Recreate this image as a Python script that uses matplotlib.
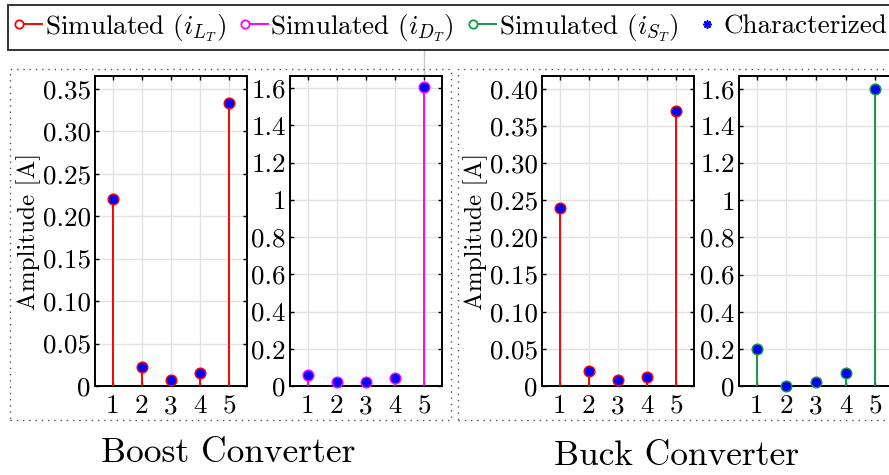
import matplotlib
matplotlib.use("Agg")
import matplotlib.pyplot as plt
from matplotlib.lines import Line2D
from matplotlib.patches import Rectangle
from matplotlib.legend_handler import HandlerBase

plt.rcParams['font.family'] = 'serif'
plt.rcParams['font.serif'] = ['cmr10', 'DejaVu Serif']
plt.rcParams['mathtext.fontset'] = 'cm'
plt.rcParams['axes.formatter.use_mathtext'] = True

# ---- data ----
harmonics = [1, 2, 3, 4, 5]
boost_iL = [0.22, 0.022, 0.0075, 0.0157, 0.333]
boost_iD = [0.057, 0.022, 0.020, 0.043, 1.608]
buck_iL = [0.24, 0.020, 0.0076, 0.012, 0.370]
buck_iS = [0.20, 0.001, 0.022, 0.072, 1.600]
boost_iL_char = [0.22, 0.022, 0.0075, 0.0157, 0.333]
boost_iD_char = [0.057, 0.022, 0.020, 0.043, 1.608]
buck_iL_char = [0.24, 0.020, 0.0076, 0.012, 0.370]
buck_iS_char = [0.20, 0.001, 0.022, 0.072, 1.600]

small_ticks = [0, 0.05, 0.10, 0.15, 0.20, 0.25, 0.30, 0.35]
small_labels = ['0', '0.05', '0.10', '0.15', '0.20', '0.25', '0.30', '0.35']
small_ticks_buck = [0, 0.05, 0.10, 0.15, 0.20, 0.25, 0.30, 0.35, 0.40]
small_labels_buck = ['0', '0.05', '0.10', '0.15', '0.20', '0.25', '0.30', '0.35', '0.40']
big_ticks = [0, 0.2, 0.4, 0.6, 0.8, 1.0, 1.2, 1.4, 1.6]
big_labels = ['0', '0.2', '0.4', '0.6', '0.8', '1', '1.2', '1.4', '1.6']

titles = ['Boost Converter', 'Buck Converter']
legend_labels = [r'Simulated ($i_{L_T}$)', r'Simulated ($i_{D_T}$)',
                 r'Simulated ($i_{S_T}$)', 'Characterized']

RED = '#ff0000'
MAG = '#ff00ff'
GRN = '#17993b'
BLUE = '#0000ff'
TICK_FS = 19.5

W, H = 889, 475
fig = plt.figure(figsize=(W / 100, H / 100), dpi=100)


def px_axes(left, right, top, bottom):
    return fig.add_axes([left / W, (H - bottom) / H, (right - left) / W, (bottom - top) / H])


panels = [
    (px_axes(95, 247, 76, 386), boost_iL, boost_iL_char, RED, (0, 0.365), small_ticks, small_labels, True),
    (px_axes(290, 442, 76, 386), boost_iD, boost_iD_char, MAG, (0, 1.665), big_ticks, big_labels, False),
    (px_axes(542, 694, 76, 386), buck_iL, buck_iL_char, RED, (0, 0.417), small_ticks_buck, small_labels_buck, True),
    (px_axes(739, 893, 76, 386), buck_iS, buck_iS_char, GRN, (0, 1.669), big_ticks, big_labels, False),
]

for ax, sim, char, col, ylim, yt, yl, ylab in panels:
    ax.set_xlim(0.4, 5.6)
    ax.set_ylim(*ylim)
    ax.set_xticks(harmonics)
    ax.set_xticklabels([str(h) for h in harmonics])
    ax.set_yticks(yt)
    ax.set_yticklabels(yl)
    ax.grid(True, color='#e2e2e2', linewidth=1.0)
    ax.set_axisbelow(True)
    for sp in ax.spines.values():
        sp.set_linewidth(1.4)
        sp.set_color('black')
    ax.tick_params(direction='in', length=3, width=1, top=True, right=True,
                   labelsize=TICK_FS, pad=3)
    ax.tick_params(axis='x', pad=6)
    ax.vlines(harmonics, 0, sim, colors=col, linewidth=1.4, zorder=3)
    ax.plot(harmonics, sim, linestyle='none', marker='o', markersize=7.5,
            markerfacecolor=BLUE, markeredgecolor=col, markeredgewidth=1.2,
            zorder=4, clip_on=False)
    ax.plot(harmonics, char, linestyle='none', marker=(8, 2, 0), markersize=6.5,
            markeredgecolor=BLUE, markeredgewidth=1.3, color=BLUE,
            zorder=5, clip_on=False)
    if ylab:
        ax.set_ylabel('Amplitude [A]', fontsize=18, labelpad=1)

# faint connector line from the boost iD panel up to the legend
panels[1][0].axvline(5, ymin=1.0, ymax=1.0 + 27 / 310, color='#c8c8c8',
                     linewidth=1.0, clip_on=False)

# dotted group boxes
for (x0, x1) in [(10, 451), (458, 895)]:
    fig.add_artist(Rectangle((x0 / W, (H - 420) / H), (x1 - x0) / W, (420 - 69) / H,
                             transform=fig.transFigure, fill=False,
                             edgecolor='#555555', linewidth=1.0,
                             linestyle=(0, (1, 3.5))))

fig.text(228 / W, 1 - 453 / H, titles[0], fontsize=25.5, ha='center', va='center')
fig.text(677 / W, 1 - 456 / H, titles[1], fontsize=25.5, ha='center', va='center')


class StemHandler(HandlerBase):
    def create_artists(self, legend, orig_handle, xdescent, ydescent,
                       width, height, fontsize, trans):
        y = height / 2 - ydescent
        x0 = -xdescent
        ms = orig_handle.get_markersize()
        line = Line2D([x0 + ms * 0.5, x0 + width], [y, y],
                      color=orig_handle.get_color(), linewidth=1.4)
        mk = Line2D([x0 + ms * 0.5], [y], linestyle='none', marker='o',
                    markersize=ms, markerfacecolor='white',
                    markeredgecolor=orig_handle.get_color(), markeredgewidth=1.3)
        line.set_transform(trans)
        mk.set_transform(trans)
        return [line, mk]


h1 = Line2D([], [], color=RED, markersize=6)
h2 = Line2D([], [], color=MAG, markersize=6)
h3 = Line2D([], [], color=GRN, markersize=6)
h4 = Line2D([], [], linestyle='none', marker=(8, 2, 0), markersize=6,
            markeredgecolor=BLUE, markeredgewidth=1.2, color=BLUE)

leg = fig.legend([h1, h2, h3, h4], legend_labels, ncol=4,
                 loc='upper left', bbox_to_anchor=(8 / W, 1 - 5 / H),
                 fontsize=19.5, frameon=True, fancybox=False,
                 handler_map={h1: StemHandler(), h2: StemHandler(), h3: StemHandler()},
                 handlelength=1.0, handletextpad=0.1, columnspacing=0.55,
                 borderpad=0.25, borderaxespad=0)
leg.get_frame().set_edgecolor('black')
leg.get_frame().set_linewidth(1.4)

fig.savefig('out.png', dpi=100)
